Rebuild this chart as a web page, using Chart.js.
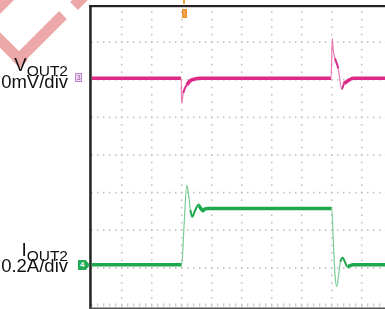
<!DOCTYPE html>
<html>
<head>
<meta charset="utf-8">
<script src="https://cdn.jsdelivr.net/npm/chart.js@4.4.0/dist/chart.umd.min.js"></script>
<style>
html, body { margin: 0; padding: 0; background: #fff; overflow: hidden; }
#wrap { position: relative; width: 400px; height: 309px; }
#scope { position: absolute; left: 0; top: 0; }
.lbl {
    position: absolute; left: 0; width: 68px; text-align: right; white-space: nowrap;
    font-family: "Liberation Sans", Arial, sans-serif; color: #111;
}
.lbl span { position: relative; top: 4.5px; font-size: 15.5px; }
.tag { position: absolute; font-family: "Liberation Sans", Arial, sans-serif; text-align: center; }
</style>
</head>
<body>
<div id="wrap">
    <canvas id="scope" width="400" height="309"></canvas>
    <div class="lbl" style="top:56px;font-size:18.5px;line-height:18.5px">V<span>OUT2</span></div>
    <div class="lbl" style="top:73px;font-size:18.5px;line-height:18.5px">0mV/div</div>
    <div class="lbl" style="top:240px;font-size:19px;line-height:19px">I<span>OUT2</span></div>
    <div class="lbl" style="top:257px;font-size:18.5px;line-height:18.5px">0.2A/div</div>
    <div class="tag" style="left:75px;top:73px;width:5px;height:7px;border:1px solid #c080cc;background:#f0e0f6;color:#9a4aa8;font-size:7px;line-height:7px">3</div>
    <div class="tag" style="left:78px;top:260px;width:12px;height:10px;background:#22aa55;color:#fff;font-size:8px;line-height:10px;font-weight:bold;text-align:left;padding-left:2px;box-sizing:border-box;clip-path:polygon(0 0,65% 0,100% 50%,65% 100%,0 100%)">4</div>
    <div class="tag" style="left:183px;top:0px;width:2px;height:4px;background:#f0a040"></div>
    <div class="tag" style="left:182px;top:9px;width:5px;height:9px;background:#f2a44a;border-radius:1px;box-shadow:inset 0 0 0 1px #e88a20"></div>
</div>
<script>
// time in divisions (1 div = horizontal grid step), level in divisions from the bottom
const vout2Time  = [0, 2.98, 3.00, 3.05, 3.11, 3.17, 3.28, 3.44, 3.61, 7.98, 8.02, 8.05, 8.11, 8.22, 8.33, 8.41, 8.50, 8.72, 10];
const vout2Level = [6.04, 6.04, 5.37, 5.64, 5.78, 5.86, 5.97, 6.02, 6.04, 6.04, 7.10, 6.79, 6.57, 6.30, 5.75, 5.89, 5.95, 6.04, 6.04];

const iout2Time  = [0, 3.00, 3.08, 3.17, 3.23, 3.29, 3.35, 3.44, 3.55, 3.63, 3.70, 3.78, 3.89, 8.00, 8.06, 8.11, 8.17, 8.23, 8.29, 8.37, 8.44, 8.53, 8.61, 8.72, 10];
const iout2Level = [1.08, 1.08, 2.14, 3.20, 2.94, 2.54, 2.36, 2.51, 2.67, 2.59, 2.52, 2.57, 2.58, 2.58, 1.61, 0.81, 0.50, 0.81, 1.16, 1.27, 1.16, 1.03, 1.06, 1.08, 1.08];

const xDivs = 10;
const yDivs = 8;

function toPoints(xs, ys) {
    return xs.map((x, i) => ({ x: x, y: ys[i] }));
}

// steep parts of a trace are drawn thinner and paler, like the scope's intensity
function traceSegment(main, pale) {
    const slope = ctx => Math.abs(ctx.p1.y - ctx.p0.y) / Math.max(0.5, Math.abs(ctx.p1.x - ctx.p0.x));
    return {
        borderWidth: ctx => slope(ctx) > 4 ? 1.2 : (slope(ctx) > 1.5 ? 2 : 3.5),
        borderColor: ctx => slope(ctx) > 4 ? pale : main
    };
}

const scopePlugin = {
    id: 'scope',
    beforeDraw(chart) {
        const ctx = chart.ctx;
        // watermark strokes
        ctx.save();
        ctx.strokeStyle = '#eca8a8';
        ctx.fillStyle = '#eca8a8';
        ctx.lineWidth = 11;
        ctx.lineCap = 'butt';
        ctx.beginPath();
        ctx.moveTo(0, 0); ctx.lineTo(14, 0); ctx.lineTo(0, 14); ctx.closePath();
        ctx.fill();
        ctx.beginPath(); ctx.moveTo(63, 15); ctx.lineTo(15, 63); ctx.stroke();
        ctx.beginPath(); ctx.moveTo(74, 6); ctx.lineTo(90, -10); ctx.stroke();
        ctx.beginPath(); ctx.moveTo(-4, 36); ctx.lineTo(24, 64); ctx.stroke();
        ctx.restore();
    },
    beforeDatasetsDraw(chart) {
        const ctx = chart.ctx;
        const xs = chart.scales.x;
        const ys = chart.scales.y;
        const area = chart.chartArea;
        ctx.save();
        ctx.fillStyle = '#c2c2c2';
        for (let i = 1; i < xDivs; i++) {
            const px = xs.getPixelForValue(i);
            for (let v = 0; v <= yDivs; v += 0.2) {
                ctx.fillRect(px - 0.8, ys.getPixelForValue(v) - 0.8, 1.6, 1.6);
            }
        }
        for (let j = 1; j < yDivs; j++) {
            const py = ys.getPixelForValue(j);
            for (let u = 0; u <= xDivs; u += 0.2) {
                ctx.fillRect(xs.getPixelForValue(u) - 0.8, py - 0.8, 1.6, 1.6);
            }
        }
        // bottom graticule ticks
        const yb = ys.getPixelForValue(0);
        for (let u = 0; u <= xDivs; u += 0.2) {
            ctx.fillRect(xs.getPixelForValue(u) - 0.6, yb - 2, 1.2, 3);
        }
        // frame
        ctx.fillStyle = '#222';
        ctx.fillRect(area.left - 2.5, area.top + 0.5, 2.5, 309);
        ctx.fillRect(area.left - 2.5, area.top + 0.5, 400, 2.2);
        ctx.fillStyle = '#555';
        ctx.fillRect(area.left - 2.5, 307.5, 400, 1.5);
        ctx.restore();
    }
};

const chart = new Chart(document.getElementById('scope'), {
    type: 'line',
    data: {
        datasets: [
            {
                label: 'VOUT2',
                data: toPoints(vout2Time, vout2Level),
                borderColor: '#dd2a86',
                borderWidth: 3.5,
                cubicInterpolationMode: 'monotone',
                segment: traceSegment('#dd2a86', '#ec78b2')
            },
            {
                label: 'IOUT2',
                data: toPoints(iout2Time, iout2Level),
                borderColor: '#1ea84e',
                borderWidth: 3.5,
                cubicInterpolationMode: 'monotone',
                segment: traceSegment('#1ea84e', '#78cc92')
            }
        ]
    },
    options: {
        responsive: false,
        animation: false,
        devicePixelRatio: 1,
        layout: { padding: { left: 91.7, right: 8.3, top: 4.5, bottom: 3.5 } },
        elements: { point: { radius: 0 } },
        scales: {
            x: { type: 'linear', min: 0, max: xDivs, display: false },
            y: { type: 'linear', min: 0, max: yDivs, display: false }
        },
        plugins: { legend: { display: false }, tooltip: { enabled: false } }
    },
    plugins: [scopePlugin]
});
</script>
</body>
</html>
